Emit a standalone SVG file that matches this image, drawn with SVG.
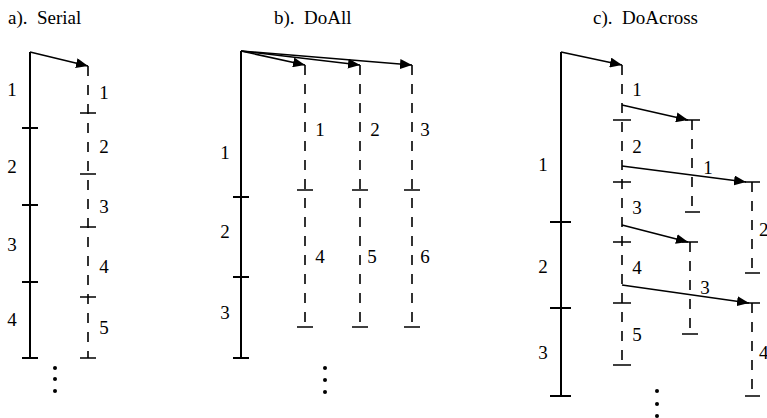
<svg xmlns="http://www.w3.org/2000/svg" width="767" height="418" viewBox="0 0 767 418">
<style>
text{font-family:"Liberation Serif","Times New Roman",serif;font-size:19px;fill:#000}
.c{text-anchor:middle}
.s{stroke:#000;stroke-width:2;fill:none}
.d{stroke:#000;stroke-width:1.6;stroke-dasharray:10 9;fill:none}
.k{stroke:#000;stroke-width:1.6;fill:none}
.a{stroke:#000;stroke-width:1.6;fill:none;marker-end:url(#ah)}
</style>
<defs>
<marker id="ah" markerUnits="userSpaceOnUse" markerWidth="13" markerHeight="10" refX="12" refY="5" orient="auto">
<path d="M0,0 L12,5 L0,10 z" fill="#000"/>
</marker>
</defs>
<g id="titles">
<text x="8" y="24">a).&#160; Serial</text>
<text x="274" y="24">b).&#160; DoAll</text>
<text x="593" y="24">c).&#160; DoAcross</text>
</g>
<g id="panel-a">
<g id="a-serial">
<path class="s" d="M30,52 V358 M22,128 H38 M22,205 H38 M22,282 H38 M22,358 H38"/>
<text class="c" x="12" y="96">1</text>
<text class="c" x="12" y="173">2</text>
<text class="c" x="12" y="251">3</text>
<text class="c" x="12" y="326">4</text>
</g>
<g id="a-thread">
<path class="d" d="M88,66 V358"/>
<path class="k" d="M80,113 H96 M80,174 H96 M80,227 H96 M80,297 H96 M80,358 H96"/>
<text class="c" x="104" y="99">1</text>
<text class="c" x="104" y="153">2</text>
<text class="c" x="104" y="213">3</text>
<text class="c" x="104" y="273">4</text>
<text class="c" x="104" y="334">5</text>
</g>
<g id="a-dots"><circle cx="55" cy="368" r="2"/><circle cx="55" cy="379" r="2"/><circle cx="55" cy="391" r="2"/></g>
</g>
<g id="panel-b">
<g id="b-serial">
<path class="s" d="M241,51 V358 M233,197 H249 M233,277 H249 M233,358 H249"/>
<text class="c" x="225" y="159">1</text>
<text class="c" x="225" y="238">2</text>
<text class="c" x="225" y="319">3</text>
</g>
<g id="b-thread1">
<path class="d" d="M305,65 V327"/>
<path class="k" d="M297,190 H313 M297,327 H313"/>
<text class="c" x="320" y="136">1</text>
<text class="c" x="320" y="263">4</text>
</g>
<g id="b-thread2">
<path class="d" d="M360,65 V327"/>
<path class="k" d="M352,190 H368 M352,327 H368"/>
<text class="c" x="375" y="136">2</text>
<text class="c" x="372" y="263">5</text>
</g>
<g id="b-thread3">
<path class="d" d="M412,65 V327"/>
<path class="k" d="M404,190 H420 M404,327 H420"/>
<text class="c" x="425" y="136">3</text>
<text class="c" x="425" y="263">6</text>
</g>
<g id="b-dots"><circle cx="325" cy="368" r="2"/><circle cx="325" cy="380" r="2"/><circle cx="325" cy="392" r="2"/></g>
</g>
<g id="panel-c">
<g id="c-serial">
<path class="s" d="M561,52 V396 M550,222 H571 M550,308 H571 M550,396 H571"/>
<text class="c" x="543" y="171">1</text>
<text class="c" x="543" y="273">2</text>
<text class="c" x="543" y="359">3</text>
</g>
<g id="c-main">
<path class="d" d="M622,65 V365"/>
<path class="k" d="M613,120 H631 M613,182 H631 M613,242 H631 M613,303 H631 M613,365 H631"/>
<text class="c" x="637" y="96">1</text>
<text class="c" x="637" y="153">2</text>
<text class="c" x="637" y="214">3</text>
<text class="c" x="637" y="274">4</text>
<text class="c" x="637" y="341">5</text>
</g>
<g id="c-thread2">
<path class="d" d="M692,120 V212"/>
<path class="k" d="M685,120 H700 M685,212 H700"/>
</g>
<g id="c-thread3">
<path class="d" d="M752,182 V273"/>
<path class="k" d="M745,182 H760 M745,273 H760"/>
<text class="c" x="708" y="174">1</text>
<text x="759" y="236">2</text>
</g>
<g id="c-thread4">
<path class="d" d="M690,242 V334"/>
<path class="k" d="M682,242 H698 M682,334 H698"/>
</g>
<g id="c-thread5">
<path class="d" d="M752,303 V396"/>
<path class="k" d="M745,303 H760 M745,396 H760"/>
<text class="c" x="705" y="294">3</text>
<text x="759" y="359">4</text>
</g>
<g id="c-dots"><circle cx="657" cy="391" r="2"/><circle cx="657" cy="404" r="2"/><circle cx="657" cy="416" r="2"/></g>
</g>
<g id="connectors">
<path class="a" d="M30,52 L88,66"/>
<path class="a" d="M241,51 L305,65"/>
<path class="a" d="M241,51 L360,65"/>
<path class="a" d="M241,51 L412,65"/>
<path class="a" d="M561,52 L622,65"/>
<path class="a" d="M622,105 L688,120"/>
<path class="a" d="M622,166 L746,182"/>
<path class="a" d="M622,225 L688,242"/>
<path class="a" d="M622,285 L749,303"/>
</g>
</svg>
